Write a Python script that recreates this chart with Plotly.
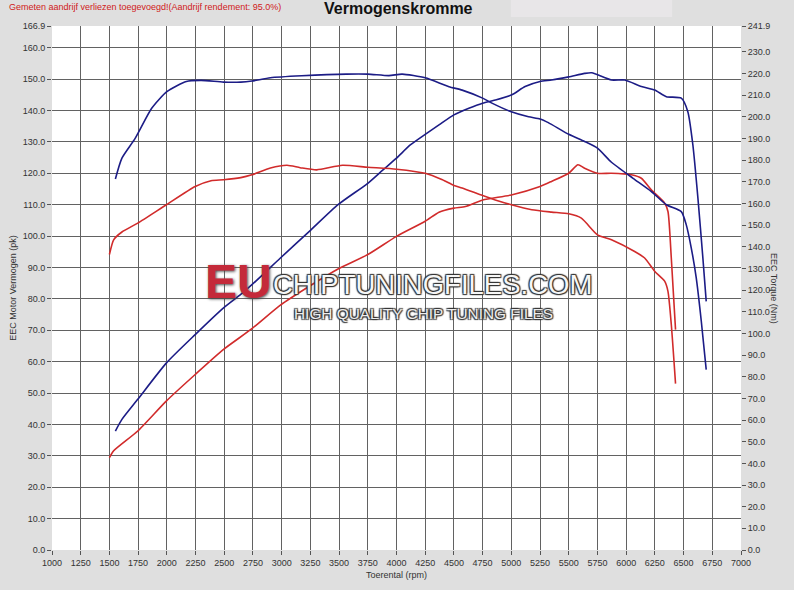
import plotly.graph_objects as go

# ---- data ----
rpm_tuned_power = [1552, 1609, 1747, 1997, 2247, 2494, 2644, 2741, 2989, 3241, 3491, 3750, 3880, 4000,
                   4120, 4250, 4370, 4500, 4630, 4750, 4860, 5000, 5120, 5250, 5350, 5500, 5638, 5700,
                   5872, 5988, 6132, 6248, 6350, 6480, 6537, 6581, 6625, 6668, 6697]
tuned_power_pk = [37.9, 41.6, 48.0, 59.6, 68.6, 77.1, 81.4, 84.5, 93.0, 101.5, 110.0, 116.8, 121.0, 124.8,
                  129.0, 132.4, 135.4, 138.6, 140.7, 142.3, 143.3, 144.9, 147.6, 149.2, 149.7, 150.7, 151.8, 152.0,
                  149.7, 149.7, 147.6, 146.5, 144.4, 143.9, 139.6, 129.0, 112.0, 93.0, 79.2]

rpm_tuned_torque = [1552, 1609, 1724, 1868, 2000, 2170, 2299, 2494, 2644, 2741, 2902, 3175, 3563, 3750,
                    3934, 4049, 4250, 4457, 4572, 4750, 4831, 5000, 5150, 5250, 5322, 5500, 5638, 5750,
                    5872, 6060, 6219, 6350, 6480, 6523, 6567, 6610, 6654, 6697]
tuned_torque_nm = [171.3, 180.9, 190.0, 203.9, 211.6, 216.3, 216.8, 216.0, 216.0, 216.5, 218.0, 218.9, 219.7, 219.7,
                   219.0, 219.7, 218.0, 213.9, 212.3, 208.6, 206.3, 202.3, 200.0, 199.0, 197.3, 191.9, 188.6, 185.5,
                   179.0, 171.6, 165.5, 159.4, 156.2, 150.2, 139.4, 125.7, 105.7, 83.3]

rpm_stock_power = [1500, 1537, 1747, 1997, 2247, 2494, 2741, 2989, 3241, 3491, 3750, 4000, 4250, 4370,
                   4500, 4600, 4750, 5000, 5250, 5350, 5500, 5580, 5638, 5750, 5872, 6045, 6132, 6219,
                   6335, 6364, 6393, 6430]
stock_power_pk = [29.4, 31.6, 37.9, 47.5, 55.9, 63.9, 70.5, 78.0, 84.0, 89.5, 94.1, 99.9, 104.7, 107.6,
                  108.9, 109.4, 111.5, 113.1, 115.8, 117.4, 120.0, 122.7, 121.6, 120.0, 120.0, 119.5, 118.4, 114.7,
                  110.5, 107.8, 93.0, 70.2]

rpm_stock_torque = [1500, 1537, 1609, 1747, 1997, 2247, 2385, 2494, 2644, 2741, 2902, 3046, 3161, 3305,
                    3529, 3750, 4000, 4250, 4400, 4500, 4572, 4750, 4860, 5000, 5178, 5350, 5500, 5610,
                    5750, 5872, 6074, 6161, 6248, 6335, 6364, 6393, 6430]
stock_torque_nm = [136.4, 143.2, 146.8, 150.9, 159.4, 167.8, 170.5, 170.9, 171.9, 173.2, 176.3, 177.6, 176.5, 175.5,
                   177.6, 176.7, 175.8, 173.9, 170.9, 168.3, 167.1, 163.6, 161.6, 159.4, 157.1, 156.0, 155.2, 153.2,
                   145.5, 143.2, 137.8, 134.8, 128.7, 124.1, 119.4, 104.1, 76.8]

x_ticks = list(range(1000, 7001, 250))
left_ticks = [float(v) for v in range(0, 161, 10)] + [166.9]
right_ticks = [float(v) for v in range(0, 231, 10)] + [241.9]

BLUE = "#1c1c86"
RED = "#d12b2b"

fig = go.Figure()
line_kw = dict(width=1.6, shape="spline", smoothing=0.6)
fig.add_trace(go.Scatter(x=rpm_tuned_power, y=tuned_power_pk, mode="lines",
                         line=dict(color=BLUE, **line_kw), name="Tuned vermogen"))
fig.add_trace(go.Scatter(x=rpm_stock_power, y=stock_power_pk, mode="lines",
                         line=dict(color=RED, **line_kw), name="Origineel vermogen"))
fig.add_trace(go.Scatter(x=rpm_tuned_torque, y=tuned_torque_nm, mode="lines", yaxis="y2",
                         line=dict(color=BLUE, **line_kw), name="Tuned koppel"))
fig.add_trace(go.Scatter(x=rpm_stock_torque, y=stock_torque_nm, mode="lines", yaxis="y2",
                         line=dict(color=RED, **line_kw), name="Origineel koppel"))

tick_font = dict(family="Arial, Liberation Sans, sans-serif", size=9, color="#333333")

fig.update_layout(
    width=794, height=590,
    margin=dict(l=49, r=53, t=26, b=37),
    paper_bgcolor="#dfdfdf",
    plot_bgcolor="#ffffff",
    showlegend=False,
    font=tick_font,
    xaxis=dict(range=[1000, 7000], tickvals=x_ticks, ticktext=[str(v) for v in x_ticks],
               showgrid=True, gridcolor="#626262", gridwidth=1, zeroline=False,
               ticks="outside", ticklen=4, tickcolor="#555555", tickfont=tick_font,
               title=dict(text="Toerental (rpm)", font=tick_font, standoff=4), showline=False),
    yaxis=dict(range=[0, 166.9], tickvals=left_ticks, ticktext=[f"{v:.1f}" for v in left_ticks],
               showgrid=True, gridcolor="#626262", gridwidth=1, zeroline=False,
               ticks="outside", ticklen=4, tickcolor="#555555", tickfont=tick_font,
               title=dict(text="EEC Motor Vermogen (pk)", font=tick_font, standoff=4)),
    yaxis2=dict(range=[0, 241.9], tickvals=right_ticks, ticktext=[f"{v:.1f}" for v in right_ticks],
                overlaying="y", side="right", showgrid=False, zeroline=False,
                ticks="outside", ticklen=4, tickcolor="#555555", tickfont=tick_font),
)

fig.add_shape(type="rect", xref="paper", yref="paper", x0=0.666, x1=0.90, y0=1.017, y1=1.05,
              fillcolor="#e8e6e8", line=dict(width=0), layer="below")

fig.add_annotation(text="Gemeten aandrijf verliezen toegevoegd!(Aandrijf rendement: 95.0%)",
                   xref="paper", yref="paper", x=-0.066, y=1.05, xanchor="left", yanchor="top",
                   showarrow=False, font=dict(family="Arial, Liberation Sans, sans-serif", size=9, color="#d02020"))
fig.add_annotation(text="<b>Vermogenskromme</b>", xref="paper", yref="paper", x=0.503, y=1.053,
                   xanchor="center", yanchor="top", showarrow=False,
                   font=dict(family="Arial, Liberation Sans, sans-serif", size=16, color="#111111"))
fig.add_annotation(text="EEC Torque (Nm)", xref="paper", yref="paper", x=1.0, xshift=40, y=0.5,
                   textangle=90, showarrow=False, font=tick_font)

# watermark
outline = "1px 1px 1px #333, -1px -1px 1px #333, 1px -1px 1px #333, -1px 1px 1px #333"
fig.add_annotation(text="<b>EU</b>", xref="paper", yref="paper", x=0.270, y=0.513,
                   xanchor="center", yanchor="middle", showarrow=False,
                   font=dict(family="Liberation Sans, Arial", size=48, color="#c42a3a",
                             shadow="1px 1px 3px #444"))
fig.add_annotation(text="CHIPTUNINGFILES.COM", xref="paper", yref="paper", x=0.552, y=0.506,
                   xanchor="center", yanchor="middle", showarrow=False,
                   font=dict(family="Liberation Sans Narrow, Arial Narrow, Liberation Sans", size=27.5,
                             color="#f6f6f6", shadow=outline))
fig.add_annotation(text="HIGH QUALITY CHIP TUNING FILES", xref="paper", yref="paper", x=0.539, y=0.451,
                   xanchor="center", yanchor="middle", showarrow=False,
                   font=dict(family="Liberation Sans Narrow, Arial Narrow, Liberation Sans", size=15.4,
                             color="#eeeeee", shadow=outline))

fig.write_html("out.html", config={"displayModeBar": False},
               post_script="document.body.style.margin='0';")
